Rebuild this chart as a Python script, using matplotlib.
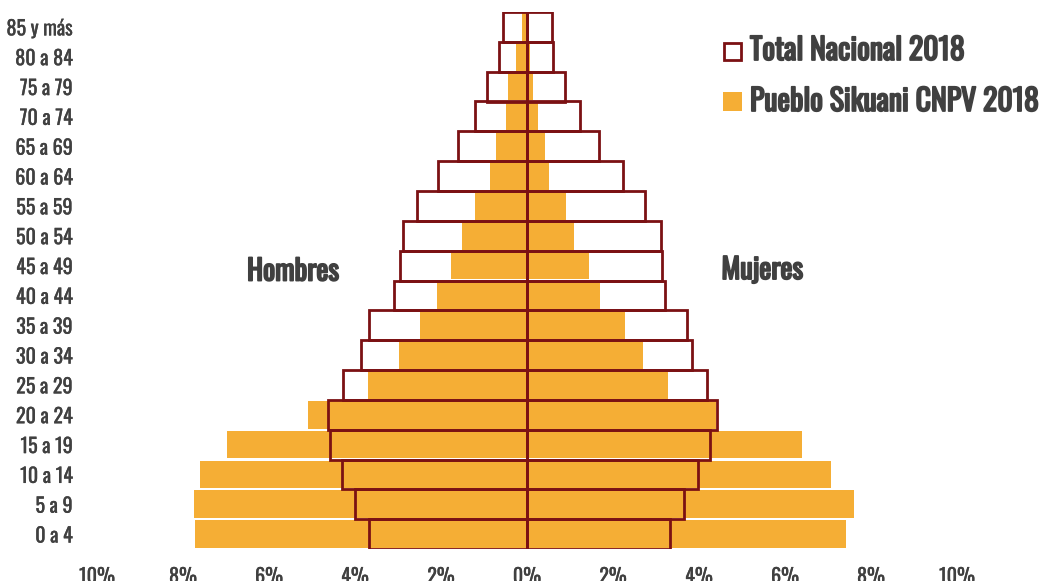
import matplotlib
matplotlib.use("Agg")
import matplotlib.pyplot as plt
import matplotlib.patheffects as pe
from matplotlib.patches import Rectangle
import numpy as np

age_groups = ["0 a 4", "5 a 9", "10 a 14", "15 a 19", "20 a 24", "25 a 29", "30 a 34",
              "35 a 39", "40 a 44", "45 a 49", "50 a 54", "55 a 59", "60 a 64",
              "65 a 69", "70 a 74", "75 a 79", "80 a 84", "85 y más"]

nacional_hombres = [3.67, 4.01, 4.31, 4.59, 4.62, 4.28, 3.87, 3.67, 3.10, 2.96, 2.89,
                    2.55, 2.07, 1.60, 1.20, 0.93, 0.66, 0.55]
nacional_mujeres = [3.32, 3.66, 3.98, 4.25, 4.43, 4.19, 3.84, 3.73, 3.22, 3.15, 3.12,
                    2.74, 2.23, 1.68, 1.23, 0.88, 0.61, 0.57]
sikuani_hombres = [7.72, 7.75, 7.61, 6.97, 5.10, 3.69, 2.98, 2.50, 2.09, 1.76, 1.51,
                   1.21, 0.85, 0.71, 0.48, 0.44, 0.25, 0.12]
sikuani_mujeres = [7.42, 7.60, 7.08, 6.40, 4.40, 3.27, 2.69, 2.27, 1.69, 1.45, 1.10,
                   0.90, 0.52, 0.42, 0.25, 0.14, 0.07, 0.04]

x_ticks = [-10, -8, -6, -4, -2, 0, 2, 4, 6, 8, 10]
x_tick_labels = ["10%", "8%", "6%", "4%", "2%", "0%", "2%", "4%", "6%", "8%", "10%"]

legend_labels = ["Total Nacional 2018", "Pueblo Sikuani CNPV 2018"]

FONT = ["Oswald", "Open Sans Condensed", "IBM Plex Sans Condensed", "DejaVu Sans"]
plt.rcParams["font.family"] = FONT
TEXT = "#404040"
ORANGE = "#F5AE35"
RED = "#7B1113"
BOLD = [pe.withStroke(linewidth=1.3, foreground=TEXT)]
SEMI = [pe.withStroke(linewidth=0.2, foreground=TEXT)]

W, H = 1043, 581
fig = plt.figure(figsize=(W / 100, H / 100), dpi=100)
ax = fig.add_axes([97 / W, 1 - 549 / H, (957 - 97) / W, (549 - 12) / H])

y = np.arange(len(age_groups))
ax.barh(y, -np.array(sikuani_hombres), height=0.93, color=ORANGE, zorder=2)
ax.barh(y, sikuani_mujeres, height=0.93, color=ORANGE, zorder=2)
ax.barh(y, -np.array(nacional_hombres), height=1.0, facecolor="none",
        edgecolor=RED, linewidth=2, zorder=3)
ax.barh(y, nacional_mujeres, height=1.0, facecolor="none",
        edgecolor=RED, linewidth=2, zorder=3)

ax.set_xlim(-10, 10)
ax.set_ylim(-0.5, len(age_groups) - 0.5)
ax.set_yticks(y)
ax.set_yticklabels(age_groups, fontsize=14.5, color=TEXT)
ax.set_xticks(x_ticks)
ax.set_xticklabels(x_tick_labels, fontsize=14.5, color=TEXT)
for lab in ax.get_xticklabels() + ax.get_yticklabels():
    lab.set_path_effects(SEMI)
ax.tick_params(axis="both", length=0)
ax.tick_params(axis="y", pad=17.5)
ax.tick_params(axis="x", pad=12.5)
for s in ax.spines.values():
    s.set_visible(False)

ax.text(-5.44, 8.8, "Hombres", fontsize=20.5, color=TEXT,
        ha="center", va="center", path_effects=BOLD)
ax.text(5.47, 8.85, "Mujeres", fontsize=20.5, color=TEXT,
        ha="center", va="center", path_effects=BOLD)

# legend (drawn in figure pixel coordinates)
fig.add_artist(Rectangle((724, H - 60), 17, 17, transform=None, facecolor="white",
                         edgecolor=RED, linewidth=2))
fig.add_artist(Rectangle((723, H - 111), 19, 19, transform=None, facecolor=ORANGE,
                         edgecolor="none"))
fig.text(750 / W, (H - 60) / H, legend_labels[0], fontsize=21.5, color=TEXT,
         ha="left", va="baseline", path_effects=BOLD)
fig.text(750 / W, (H - 111) / H, legend_labels[1], fontsize=21.5, color=TEXT,
         ha="left", va="baseline", path_effects=BOLD)

fig.savefig("out.png", dpi=100)
